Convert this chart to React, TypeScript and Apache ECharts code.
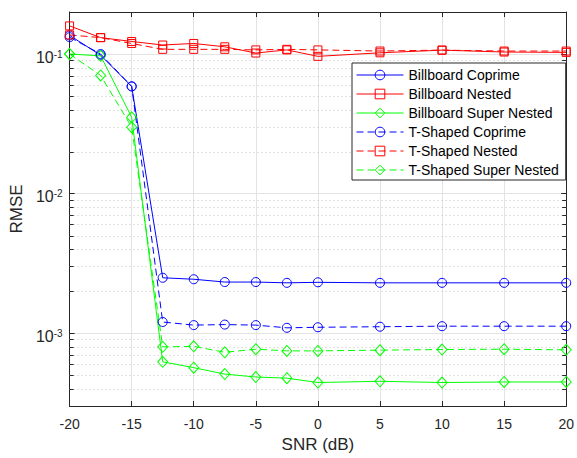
import React, { useEffect, useRef } from 'react';
import * as echarts from 'echarts';

const snr = [-20, -17.5, -15, -12.5, -10, -7.5, -5, -2.5, 0, 5, 10, 15, 20];
const billboardCoprime = [0.136, 0.098, 0.0586, 0.00249, 0.00243, 0.00232, 0.00232, 0.00229, 0.00231, 0.00229, 0.00229, 0.00229, 0.00229];
const billboardNested = [0.159, 0.131, 0.123, 0.116, 0.119, 0.1126, 0.1016, 0.107, 0.0962, 0.102, 0.1066, 0.1033, 0.1027];
const billboardSuperNested = [0.1, 0.097, 0.0352, 0.000622, 0.000565, 0.000508, 0.000484, 0.000475, 0.000442, 0.000451, 0.000442, 0.000446, 0.000446];
const tShapedCoprime = [0.132, 0.1, 0.0586, 0.0012, 0.00114, 0.00115, 0.00114, 0.00109, 0.0011, 0.00111, 0.00112, 0.00112, 0.00112];
const tShapedNested = [0.137, 0.131, 0.119, 0.108, 0.108, 0.108, 0.107, 0.108, 0.107, 0.105, 0.1066, 0.105, 0.105];
const tShapedSuperNested = [0.1, 0.0702, 0.0299, 0.000796, 0.000803, 0.000728, 0.000766, 0.000745, 0.000745, 0.000754, 0.000762, 0.000766, 0.000758];

const minorTicks = [
  0.0004, 0.0005, 0.0006, 0.0007, 0.0008, 0.0009,
  0.002, 0.003, 0.004, 0.005, 0.006, 0.007, 0.008, 0.009,
  0.02, 0.03, 0.04, 0.05, 0.06, 0.07, 0.08, 0.09,
];

const FONT = 'Liberation Sans, Arial, Helvetica, sans-serif';
const AXIS = '#262626';
const BLUE = '#0000ff';
const RED = '#ff0000';
const GREEN = '#00ff00';
const DASH = [7, 4];

function lineSeries(name: string, values: number[], color: string, symbol: string, size: number | number[], dashed: boolean) {
  return {
    name,
    type: 'line',
    data: snr.map((x, i) => [x, values[i]]),
    symbol,
    symbolSize: size,
    lineStyle: { color, width: 1, type: dashed ? DASH : 'solid' },
    itemStyle: { color: 'rgba(255,255,255,0)', borderColor: color, borderWidth: 1 },
    emphasis: { disabled: true },
    z: 3,
  };
}

export default function App() {
  const ref = useRef<HTMLDivElement>(null);
  useEffect(() => {
    if (!ref.current) return;
    const chart = echarts.init(ref.current, undefined, { renderer: 'svg' });
    const yBase = {
      type: 'log',
      logBase: 10,
      min: 3e-4,
      max: 0.2,
    };
    chart.setOption({
      animation: false,
      backgroundColor: '#ffffff',
      grid: { left: 66, right: 7, top: 12, bottom: 49 },
      legend: {
        data: ['Billboard Coprime', 'Billboard Nested', 'Billboard Super Nested', 'T-Shaped Coprime', 'T-Shaped Nested', 'T-Shaped Super Nested'],
        orient: 'vertical',
        left: 352,
        top: 63,
        padding: [5, 7, 3, 4],
        itemWidth: 47,
        itemHeight: 12,
        itemGap: 5,
        borderColor: AXIS,
        borderWidth: 1,
        backgroundColor: '#ffffff',
        lineStyle: { width: 1 },
        itemStyle: { borderWidth: 1 },
        textStyle: { fontSize: 14, color: '#000000', fontFamily: FONT },
        selectedMode: false,
      },
      xAxis: [
        {
          type: 'value',
          min: -20,
          max: 20,
          interval: 5,
          position: 'bottom',
          name: 'SNR (dB)',
          nameLocation: 'middle',
          nameGap: 30,
          nameTextStyle: { fontSize: 17, color: AXIS, fontFamily: FONT },
          axisLine: { show: true, onZero: false, lineStyle: { color: AXIS, width: 1 } },
          axisTick: { show: true, inside: true, length: 5, lineStyle: { color: AXIS } },
          axisLabel: { fontSize: 14, color: AXIS, fontFamily: FONT, margin: 11 },
          splitLine: { show: true, lineStyle: { color: '#e3e3e3', width: 1 } },
        },
        {
          type: 'value',
          min: -20,
          max: 20,
          interval: 5,
          position: 'top',
          axisLine: { show: true, onZero: false, lineStyle: { color: AXIS, width: 1 } },
          axisTick: { show: true, inside: true, length: 5, lineStyle: { color: AXIS } },
          axisLabel: { show: false },
          splitLine: { show: false },
        },
      ],
      yAxis: [
        {
          ...yBase,
          position: 'left',
          name: 'RMSE',
          nameLocation: 'middle',
          nameGap: 40,
          nameTextStyle: { fontSize: 17, color: AXIS, fontFamily: FONT },
          axisLine: { show: true, onZero: false, lineStyle: { color: AXIS, width: 1 } },
          axisTick: { show: true, inside: true, length: 5, lineStyle: { color: AXIS } },
          axisLabel: {
            margin: 7,
            padding: [6, 0, 0, 0],
            formatter: (v: number) => {
              const e = Math.log10(v);
              const r = Math.round(e);
              if (Math.abs(e - r) > 1e-6) return '';
              return `{b|10}{s|${r}}`;
            },
            rich: {
              b: { fontSize: 16, lineHeight: 16, color: AXIS, fontFamily: FONT },
              s: { fontSize: 10, lineHeight: 10, color: AXIS, fontFamily: FONT, verticalAlign: 'top' },
            },
          },
          splitLine: { show: true, lineStyle: { color: '#e3e3e3', width: 1 } },
        },
        {
          ...yBase,
          position: 'right',
          axisLine: { show: true, onZero: false, lineStyle: { color: AXIS, width: 1 } },
          axisTick: { show: true, inside: true, length: 5, lineStyle: { color: AXIS } },
          axisLabel: { show: false },
          splitLine: { show: false },
        },
      ],
      series: [
        {
          name: 'minor',
          type: 'custom',
          xAxisIndex: 0,
          yAxisIndex: 0,
          silent: true,
          z: 1,
          encode: { x: 0, y: 1 },
          data: minorTicks.map((v) => [-20, v]),
          renderItem: (params: any, api: any) => {
            const v = api.value(1);
            const pt = api.coord([-20, v]);
            const cs = params.coordSys;
            const y = Math.round(pt[1]) + 0.5;
            return {
              type: 'group',
              children: [
                { type: 'line', shape: { x1: cs.x, y1: y, x2: cs.x + cs.width, y2: y }, style: { stroke: '#c4c4c4', lineWidth: 1, lineDash: [1, 3] } },
                { type: 'line', shape: { x1: cs.x, y1: y, x2: cs.x + 4, y2: y }, style: { stroke: AXIS, lineWidth: 1 } },
                { type: 'line', shape: { x1: cs.x + cs.width - 4, y1: y, x2: cs.x + cs.width, y2: y }, style: { stroke: AXIS, lineWidth: 1 } },
              ],
            };
          },
        },
        lineSeries('Billboard Coprime', billboardCoprime, BLUE, 'circle', 9, false),
        lineSeries('Billboard Nested', billboardNested, RED, 'rect', 8, false),
        lineSeries('Billboard Super Nested', billboardSuperNested, GREEN, 'diamond', [10, 11], false),
        lineSeries('T-Shaped Coprime', tShapedCoprime, BLUE, 'circle', 9, true),
        lineSeries('T-Shaped Nested', tShapedNested, RED, 'rect', 8, true),
        lineSeries('T-Shaped Super Nested', tShapedSuperNested, GREEN, 'diamond', [10, 11], true),
      ],
    });
    return () => chart.dispose();
  }, []);
  return <div ref={ref} style={{ position: 'fixed', left: 0, top: 0, width: 577, height: 458 }} />;
}
